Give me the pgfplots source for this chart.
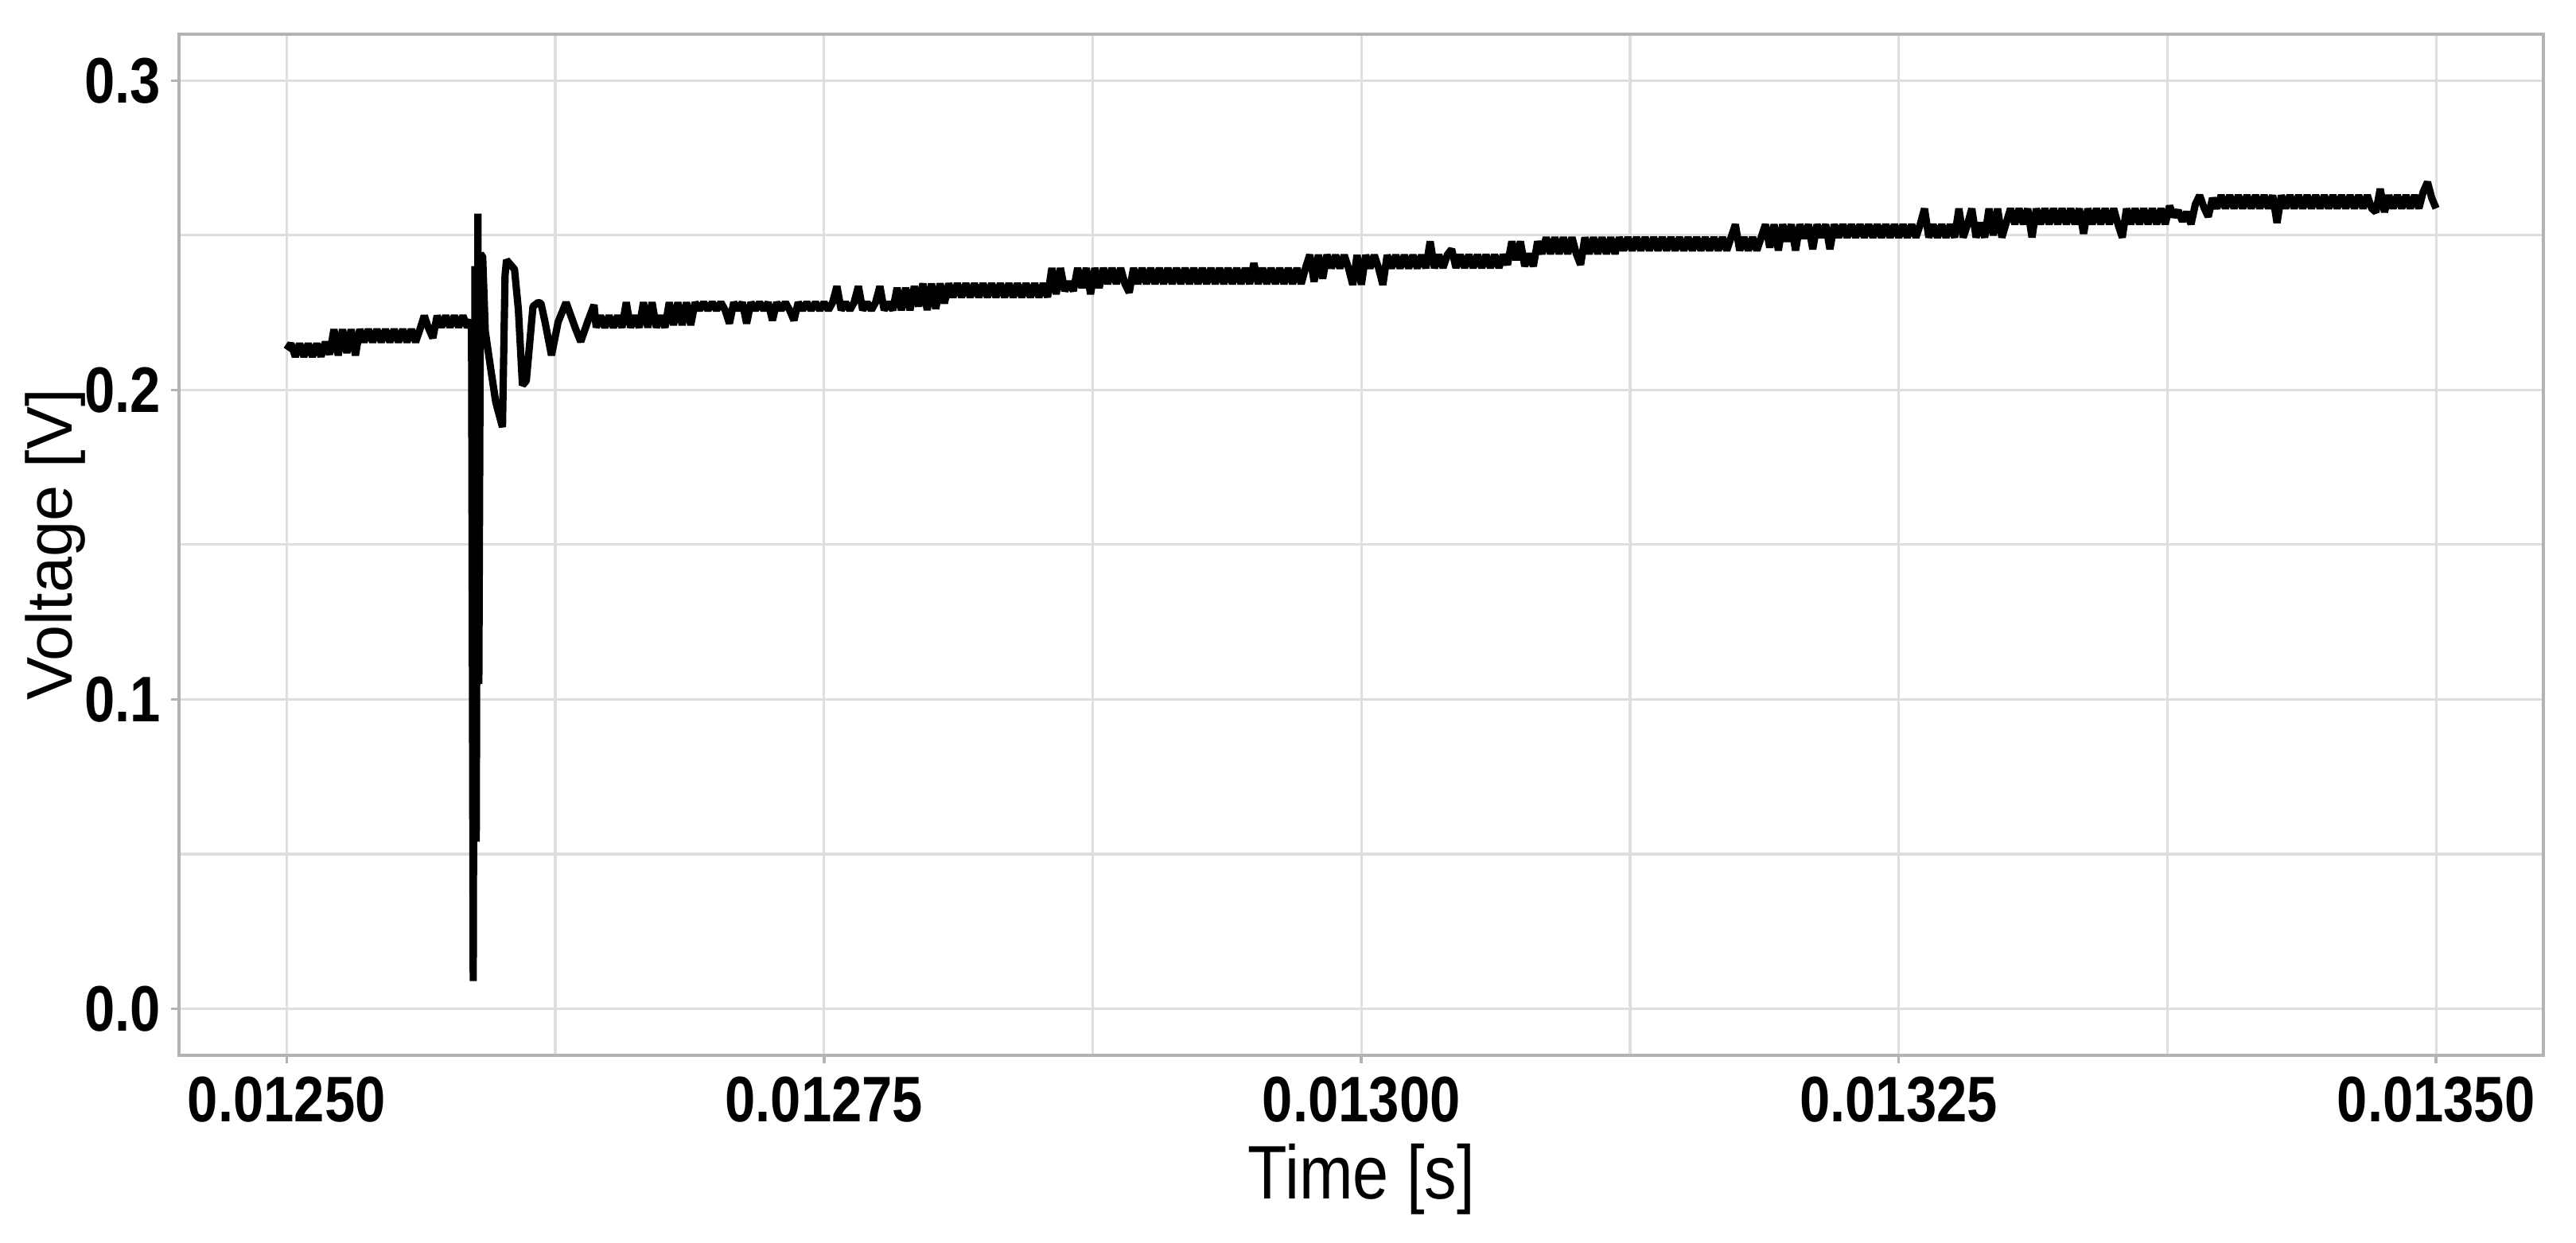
\documentclass[border=0pt]{standalone}
\usepackage{fontspec}
\setmainfont{Liberation Sans}[FakeStretch=0.85]
\usepackage{graphicx}
\usepackage{pgfplots}
\pgfplotsset{compat=1.18}

\definecolor{gridc}{RGB}{222,222,222}
\definecolor{framec}{RGB}{179,179,179}

\begin{document}
\begin{tikzpicture}
% page = 460pt x 222pt, panel at (0,0)-(422.2,182.4)
\useasboundingbox (-32pt,-33.5pt) rectangle (428pt,188.5pt);
\begin{axis}[
    scale only axis,
    width=422.2pt, height=182.4pt,
    xmin=0.01245, xmax=0.01355,
    ymin=-0.015, ymax=0.315,
    xtick={0.0125,0.01275,0.013,0.01325,0.0135},
    minor xtick={0.012625,0.012875,0.013125,0.013375},
    ytick={0,0.1,0.2,0.3},
    minor ytick={0.05,0.15,0.25},
    scaled x ticks=false, scaled y ticks=false,
    tick pos=left,
    grid=both,
    major grid style={draw=gridc, line width=0.45pt},
    minor grid style={draw=gridc, line width=0.45pt},
    axis line style={draw=framec, line width=0.55pt},
    tick align=outside,
    major tick length=1.4pt, minor tick length=0pt,
    tick style={draw=framec, line width=0.5pt},
    xticklabel style={font=\fontsize{11.5}{13}\selectfont\bfseries, inner sep=0pt, anchor=north, yshift=-2.2pt,
        /pgf/number format/.cd, fixed, fixed zerofill, precision=5, assume math mode=true},
    yticklabel style={font=\fontsize{11.5}{13}\selectfont\bfseries, inner sep=0pt, anchor=east, xshift=-1.7pt,
        /pgf/number format/.cd, fixed, fixed zerofill, precision=1, assume math mode=true},
    xlabel={Time [s]},
    xlabel style={font=\fontsize{13.55}{15}\selectfont, inner sep=0pt, anchor=base,
        at={(axis description cs:0.5,-0.1403)}},
    ylabel={\scalebox{1}[0.85]{\fontsize{13.55}{15}\selectfont Voltage [V]}},
    ylabel style={inner sep=0pt, anchor=base, rotate=0,
        at={(axis description cs:-0.0455,0.5)}},
]
\addplot[black, line width=1.3pt, line join=bevel] table {
t v
0.012500 0.2130
0.012502 0.2150
0.012504 0.2108
0.012506 0.2150
0.012508 0.2108
0.012510 0.2150
0.012512 0.2108
0.012514 0.2150
0.012516 0.2108
0.012518 0.2155
0.012520 0.2115
0.012522 0.2196
0.012524 0.2112
0.012526 0.2196
0.012528 0.2120
0.012530 0.2196
0.012532 0.2112
0.012534 0.2196
0.012536 0.2155
0.012538 0.2196
0.012540 0.2155
0.012542 0.2196
0.012544 0.2155
0.012546 0.2196
0.012548 0.2155
0.012550 0.2196
0.012552 0.2155
0.012554 0.2196
0.012556 0.2155
0.012558 0.2196
0.012560 0.2155
0.012562 0.2196
0.012564 0.2240
0.012566 0.2200
0.012568 0.2168
0.012570 0.2240
0.012572 0.2203
0.012574 0.2240
0.012576 0.2203
0.012578 0.2240
0.012580 0.2203
0.012582 0.2240
0.012584 0.2203
0.012586 0.2225
0.0125868 0.0090
0.0125876 0.2400
0.0125882 0.0540
0.0125890 0.2570
0.0125894 0.1050
0.0125902 0.2440
0.0125912 0.2430
0.0125924 0.2190
0.0125949 0.2070
0.0125973 0.1960
0.0126004 0.1880
0.0126016 0.2370
0.0126023 0.2420
0.0126060 0.2390
0.0126078 0.2260
0.0126097 0.2015
0.0126115 0.2030
0.0126146 0.2270
0.0126170 0.2283
0.0126183 0.2280
0.0126202 0.2220
0.0126232 0.2112
0.0126263 0.2220
0.0126300 0.2283
0.0126343 0.2200
0.0126368 0.2156
0.0126400 0.2220
0.0126430 0.2275
0.012644 0.2202
0.012646 0.2240
0.012648 0.2202
0.012650 0.2240
0.012652 0.2202
0.012654 0.2240
0.012656 0.2202
0.012658 0.2283
0.012660 0.2202
0.012662 0.2240
0.012664 0.2202
0.012666 0.2283
0.012668 0.2202
0.012670 0.2283
0.012672 0.2202
0.012674 0.2240
0.012676 0.2202
0.012678 0.2283
0.012680 0.2210
0.012682 0.2283
0.012684 0.2210
0.012686 0.2283
0.012688 0.2210
0.012690 0.2283
0.012692 0.2258
0.012694 0.2283
0.012696 0.2258
0.012698 0.2283
0.012700 0.2258
0.012702 0.2283
0.012704 0.2258
0.012706 0.2215
0.012708 0.2283
0.012710 0.2258
0.012712 0.2283
0.012714 0.2215
0.012716 0.2283
0.012718 0.2258
0.012720 0.2283
0.012722 0.2258
0.012724 0.2283
0.012726 0.2225
0.012728 0.2283
0.012730 0.2258
0.012732 0.2283
0.012734 0.2258
0.012736 0.2225
0.012738 0.2283
0.012740 0.2258
0.012742 0.2283
0.012744 0.2258
0.012746 0.2283
0.012748 0.2258
0.012750 0.2283
0.012752 0.2258
0.012754 0.2283
0.012756 0.2335
0.012758 0.2258
0.012760 0.2283
0.012762 0.2258
0.012764 0.2283
0.012766 0.2335
0.012768 0.2258
0.012770 0.2283
0.012772 0.2258
0.012774 0.2283
0.012776 0.2335
0.012778 0.2258
0.012780 0.2283
0.012782 0.2258
0.012784 0.2330
0.012786 0.2258
0.012788 0.2330
0.012790 0.2258
0.012792 0.2335
0.012794 0.2270
0.012796 0.2344
0.012798 0.2258
0.012800 0.2344
0.012802 0.2262
0.012804 0.2344
0.012806 0.2280
0.012808 0.2344
0.012810 0.2300
0.012812 0.2344
0.012814 0.2300
0.012816 0.2344
0.012818 0.2300
0.012820 0.2344
0.012822 0.2300
0.012824 0.2344
0.012826 0.2300
0.012828 0.2344
0.012830 0.2300
0.012832 0.2344
0.012834 0.2300
0.012836 0.2344
0.012838 0.2300
0.012840 0.2344
0.012842 0.2300
0.012844 0.2344
0.012846 0.2300
0.012848 0.2344
0.012850 0.2300
0.012852 0.2344
0.012854 0.2300
0.012856 0.2394
0.012858 0.2310
0.012860 0.2394
0.012862 0.2320
0.012864 0.2350
0.012866 0.2320
0.012868 0.2394
0.012870 0.2330
0.012872 0.2394
0.012874 0.2310
0.012876 0.2394
0.012878 0.2330
0.012880 0.2394
0.012882 0.2343
0.012884 0.2394
0.012886 0.2343
0.012888 0.2394
0.012890 0.2343
0.012892 0.2315
0.012894 0.2394
0.012896 0.2343
0.012898 0.2394
0.012900 0.2343
0.012902 0.2394
0.012904 0.2343
0.012906 0.2394
0.012908 0.2343
0.012910 0.2394
0.012912 0.2343
0.012914 0.2394
0.012916 0.2343
0.012918 0.2394
0.012920 0.2343
0.012922 0.2394
0.012924 0.2343
0.012926 0.2394
0.012928 0.2343
0.012930 0.2394
0.012932 0.2343
0.012934 0.2394
0.012936 0.2343
0.012938 0.2394
0.012940 0.2343
0.012942 0.2394
0.012944 0.2343
0.012946 0.2394
0.012948 0.2343
0.012950 0.2410
0.012952 0.2343
0.012954 0.2394
0.012956 0.2343
0.012958 0.2394
0.012960 0.2343
0.012962 0.2394
0.012964 0.2343
0.012966 0.2394
0.012968 0.2343
0.012970 0.2394
0.012972 0.2343
0.012974 0.2394
0.012976 0.2437
0.012978 0.2350
0.012980 0.2437
0.012982 0.2360
0.012984 0.2437
0.012986 0.2394
0.012988 0.2436
0.012990 0.2394
0.012992 0.2436
0.012994 0.2394
0.012996 0.2340
0.012998 0.2436
0.013000 0.2340
0.013002 0.2436
0.013004 0.2394
0.013006 0.2436
0.013008 0.2394
0.013010 0.2340
0.013012 0.2436
0.013014 0.2394
0.013016 0.2436
0.013018 0.2394
0.013020 0.2436
0.013022 0.2394
0.013024 0.2436
0.013026 0.2394
0.013028 0.2436
0.013030 0.2394
0.013032 0.2480
0.013034 0.2394
0.013036 0.2437
0.013038 0.2395
0.013040 0.2437
0.013042 0.2455
0.013044 0.2395
0.013046 0.2437
0.013048 0.2395
0.013050 0.2437
0.013052 0.2395
0.013054 0.2437
0.013056 0.2395
0.013058 0.2437
0.013060 0.2395
0.013062 0.2437
0.013064 0.2395
0.013066 0.2437
0.013068 0.2405
0.013070 0.2480
0.013072 0.2420
0.013074 0.2480
0.013076 0.2400
0.013078 0.2440
0.013080 0.2400
0.013082 0.2480
0.013084 0.2440
0.013086 0.2493
0.013088 0.2440
0.013090 0.2493
0.013092 0.2440
0.013094 0.2493
0.013096 0.2440
0.013098 0.2493
0.013100 0.2440
0.013102 0.2405
0.013104 0.2493
0.013106 0.2440
0.013108 0.2493
0.013110 0.2440
0.013112 0.2493
0.013114 0.2440
0.013116 0.2493
0.013118 0.2440
0.013120 0.2493
0.013122 0.2451
0.013124 0.2493
0.013126 0.2451
0.013128 0.2493
0.013130 0.2451
0.013132 0.2493
0.013134 0.2451
0.013136 0.2493
0.013138 0.2451
0.013140 0.2493
0.013142 0.2451
0.013144 0.2493
0.013146 0.2451
0.013148 0.2493
0.013150 0.2451
0.013152 0.2493
0.013154 0.2451
0.013156 0.2493
0.013158 0.2451
0.013160 0.2493
0.013162 0.2451
0.013164 0.2493
0.013166 0.2451
0.013168 0.2493
0.013170 0.2451
0.013172 0.2493
0.013174 0.2535
0.013176 0.2451
0.013178 0.2493
0.013180 0.2451
0.013182 0.2493
0.013184 0.2451
0.013186 0.2493
0.013188 0.2535
0.013190 0.2460
0.013192 0.2535
0.013194 0.2451
0.013196 0.2535
0.013198 0.2480
0.013200 0.2535
0.013202 0.2451
0.013204 0.2535
0.013206 0.2490
0.013208 0.2535
0.013210 0.2455
0.013212 0.2535
0.013214 0.2493
0.013216 0.2535
0.013218 0.2455
0.013220 0.2535
0.013222 0.2493
0.013224 0.2535
0.013226 0.2493
0.013228 0.2535
0.013230 0.2493
0.013232 0.2535
0.013234 0.2493
0.013236 0.2535
0.013238 0.2493
0.013240 0.2535
0.013242 0.2493
0.013244 0.2535
0.013246 0.2493
0.013248 0.2535
0.013250 0.2493
0.013252 0.2535
0.013254 0.2493
0.013256 0.2535
0.013258 0.2493
0.013260 0.2535
0.013262 0.2586
0.013264 0.2493
0.013266 0.2535
0.013268 0.2493
0.013270 0.2535
0.013272 0.2493
0.013274 0.2535
0.013276 0.2493
0.013278 0.2586
0.013280 0.2493
0.013282 0.2535
0.013284 0.2586
0.013286 0.2493
0.013288 0.2540
0.013290 0.2493
0.013292 0.2586
0.013294 0.2500
0.013296 0.2586
0.013298 0.2493
0.013300 0.2540
0.013302 0.2586
0.013304 0.2536
0.013306 0.2586
0.013308 0.2536
0.013310 0.2586
0.013312 0.2493
0.013314 0.2586
0.013316 0.2536
0.013318 0.2586
0.013320 0.2536
0.013322 0.2586
0.013324 0.2536
0.013326 0.2586
0.013328 0.2536
0.013330 0.2586
0.013332 0.2536
0.013334 0.2586
0.013336 0.2505
0.013338 0.2586
0.013340 0.2536
0.013342 0.2586
0.013344 0.2536
0.013346 0.2586
0.013348 0.2536
0.013350 0.2586
0.013352 0.2536
0.013354 0.2493
0.013356 0.2586
0.013358 0.2536
0.013360 0.2586
0.013362 0.2536
0.013364 0.2586
0.013366 0.2536
0.013368 0.2586
0.013370 0.2536
0.013372 0.2586
0.013374 0.2536
0.013376 0.2595
0.013378 0.2560
0.013380 0.2580
0.013382 0.2545
0.013384 0.2575
0.013386 0.2536
0.013388 0.2600
0.013390 0.2629
0.013392 0.2590
0.013394 0.2560
0.013396 0.2620
0.013398 0.2587
0.013400 0.2629
0.013402 0.2587
0.013404 0.2629
0.013406 0.2587
0.013408 0.2629
0.013410 0.2587
0.013412 0.2629
0.013414 0.2587
0.013416 0.2629
0.013418 0.2587
0.013420 0.2629
0.013422 0.2587
0.013424 0.2629
0.013426 0.2540
0.013428 0.2629
0.013430 0.2587
0.013432 0.2629
0.013434 0.2587
0.013436 0.2629
0.013438 0.2587
0.013440 0.2629
0.013442 0.2587
0.013444 0.2629
0.013446 0.2587
0.013448 0.2629
0.013450 0.2587
0.013452 0.2629
0.013454 0.2587
0.013456 0.2629
0.013458 0.2587
0.013460 0.2629
0.013462 0.2587
0.013464 0.2629
0.013466 0.2587
0.013468 0.2629
0.013470 0.2587
0.013472 0.2575
0.013474 0.2650
0.013476 0.2575
0.013478 0.2629
0.013480 0.2587
0.013482 0.2629
0.013484 0.2587
0.013486 0.2629
0.013488 0.2587
0.013490 0.2629
0.013492 0.2587
0.013494 0.2640
0.013496 0.2672
0.013498 0.2620
0.013500 0.2587
};
\end{axis}
\end{tikzpicture}
\end{document}
